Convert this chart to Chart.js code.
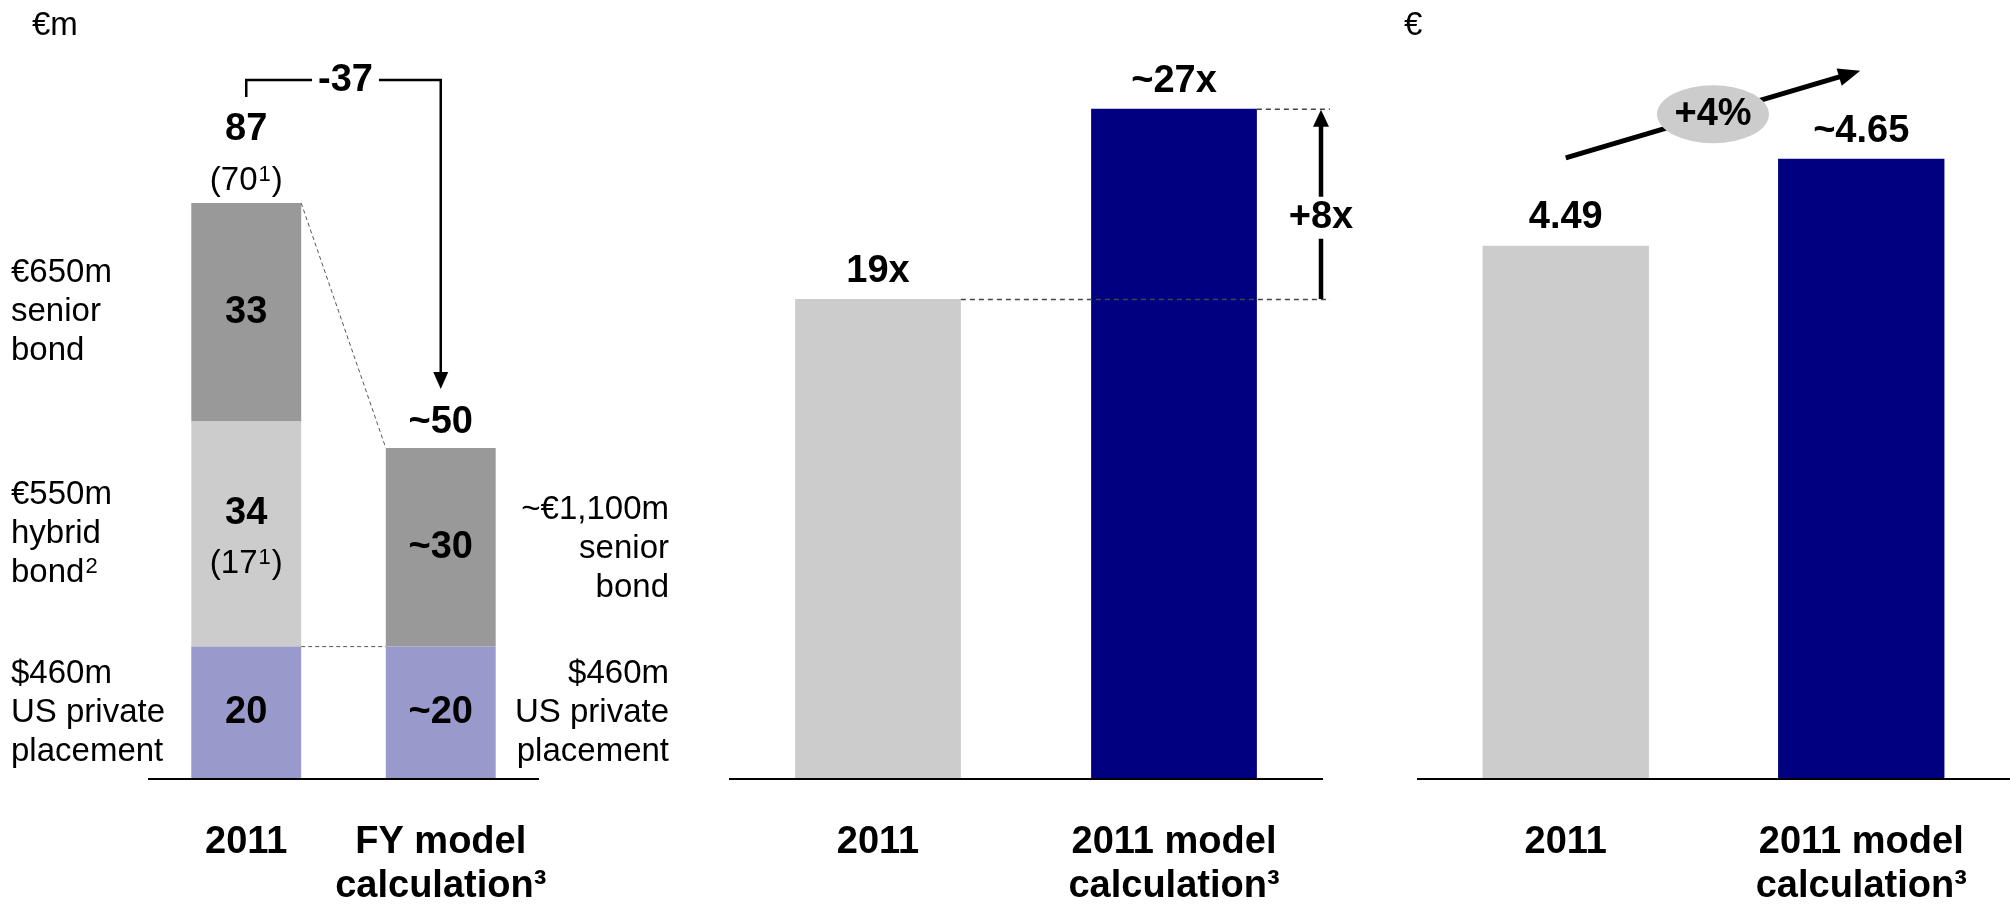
<!DOCTYPE html>
<html>
<head>
<meta charset="utf-8">
<script src="https://cdn.jsdelivr.net/npm/chart.js@4.4.1/dist/chart.umd.min.js"></script>
<style>
  html, body { margin: 0; padding: 0; background: #fff; }
  #wrap { position: relative; width: 2010px; height: 904px; overflow: hidden; background: #fff; }
  #wrap canvas { position: absolute; top: 0; }
</style>
</head>
<body>
<div id="wrap">
  <canvas id="debt" width="700" height="904" style="left:0;width:700px;height:904px"></canvas>
  <canvas id="cover" width="660" height="904" style="left:700px;width:660px;height:904px"></canvas>
  <canvas id="eps" width="650" height="904" style="left:1360px;width:650px;height:904px"></canvas>
</div>
<script>
const FONT = '"Liberation Sans", Arial, Helvetica, sans-serif';

// Interest expense by instrument, €m
const debtCategories = ['2011', ['FY model', 'calculation³']];
const privatePlacement = [20, 20];
const hybridBond = [34, null];
const seniorBond = [33, 30];
const debtTotalLabels = [['87', '(70¹)'], ['~50']];
const debtChangeLabel = '-37';
const privatePlacementLabels = ['20', '~20'];
const hybridBondLabels = [['34', '(17¹)'], null];
const seniorBondLabels = ['33', '~30'];
const leftNotes = {
  senior: ['€650m', 'senior', 'bond'],
  hybrid: ['€550m', 'hybrid', 'bond²'],
  placement: ['$460m', 'US private', 'placement']
};
const rightNotes = {
  senior: ['~€1,100m', 'senior', 'bond'],
  placement: ['$460m', 'US private', 'placement']
};

// Interest cover
const coverCategories = ['2011', ['2011 model', 'calculation³']];
const coverValues = [19, 27];
const coverLabels = ['19x', '~27x'];
const coverChangeLabel = '+8x';
const coverAxisMin = -1.2;

// Earnings per share, €
const epsCategories = ['2011', ['2011 model', 'calculation³']];
const epsValues = [4.49, 4.65];
const epsLabels = ['4.49', '~4.65'];
const epsChangeLabel = '+4%';
const epsAxisMin = 3.51;

const DARK_GREY = '#999999';
const LIGHT_GREY = '#cccccc';
const LAVENDER = '#9999cc';
const NAVY = '#000080';
const BOLD = 38;
const REGULAR = 33;

// ---------- drawing helpers ----------
const SUPERSCRIPTS = { '¹': '1', '²': '2', '³': '3' };

// Draws text centred on y; superscript digits are set smaller and raised.
function drawText(ctx, str, x, y, size, bold, align) {
  ctx.save();
  const weight = bold ? 'bold ' : '';
  const mainFont = weight + size + 'px ' + FONT;
  const supSize = Math.round(size * 0.68);
  const supFont = weight + supSize + 'px ' + FONT;
  const parts = [];
  let buf = '';
  for (const ch of str) {
    if (SUPERSCRIPTS[ch]) {
      if (buf) parts.push({ t: buf, sup: false });
      parts.push({ t: SUPERSCRIPTS[ch], sup: true });
      buf = '';
    } else {
      buf += ch;
    }
  }
  if (buf) parts.push({ t: buf, sup: false });
  let total = 0;
  parts.forEach(p => {
    ctx.font = p.sup ? supFont : mainFont;
    p.w = ctx.measureText(p.t).width + (p.sup ? 2 : 0);
    total += p.w;
  });
  let cx = x;
  if (!align || align === 'center') cx = x - total / 2;
  else if (align === 'right') cx = x - total;
  ctx.fillStyle = '#000';
  ctx.textAlign = 'left';
  ctx.textBaseline = 'middle';
  parts.forEach(p => {
    ctx.font = p.sup ? supFont : mainFont;
    ctx.fillText(p.t, cx + (p.sup ? 1 : 0), p.sup ? y - size * 0.2 : y);
    cx += p.w;
  });
  ctx.restore();
}
function drawLines(ctx, arr, x, yMid, size, bold, align, spacing) {
  const n = arr.length;
  arr.forEach((s, i) => drawText(ctx, s, x, yMid + (i - (n - 1) / 2) * spacing, size, bold, align));
}
function textWidth(ctx, str, size, bold) {
  ctx.save();
  ctx.font = (bold ? 'bold ' : '') + size + 'px ' + FONT;
  const w = ctx.measureText(str).width;
  ctx.restore();
  return w;
}
function dashedLine(ctx, x1, y1, x2, y2, color, width, dash) {
  ctx.save();
  ctx.strokeStyle = color;
  ctx.lineWidth = width;
  ctx.setLineDash(dash);
  ctx.beginPath();
  ctx.moveTo(x1, y1);
  ctx.lineTo(x2, y2);
  ctx.stroke();
  ctx.restore();
}
function arrowHead(ctx, tipX, tipY, angle, len, width) {
  ctx.save();
  ctx.translate(tipX, tipY);
  ctx.rotate(angle);
  ctx.fillStyle = '#000';
  ctx.beginPath();
  ctx.moveTo(0, 0);
  ctx.lineTo(-len, -width / 2);
  ctx.lineTo(-len, width / 2);
  ctx.closePath();
  ctx.fill();
  ctx.restore();
}

function categoryAxis(stacked) {
  return {
    type: 'category',
    stacked: stacked,
    offset: true,
    grid: { display: false, drawTicks: false },
    border: { display: true, color: '#000', width: 2, z: 1 },
    ticks: {
      color: '#000',
      padding: 41,
      autoSkip: false,
      maxRotation: 0,
      minRotation: 0,
      font: { family: FONT, size: BOLD, weight: 'bold', lineHeight: 1.16 }
    },
    afterFit(scale) { scale.height = 125; }
  };
}
const baseOptions = {
  responsive: false,
  animation: false,
  events: [],
  plugins: { legend: { display: false }, tooltip: { enabled: false } }
};

// ---------- interest expense (stacked) ----------
const debtNotes = {
  id: 'debtNotes',
  afterDatasetsDraw(chart) {
    const ctx = chart.ctx;
    const y = chart.scales.y;
    const bars = chart.getDatasetMeta(0).data;
    const x0 = bars[0].x, x1 = bars[1].x, half = bars[0].width / 2;
    const total = i => privatePlacement[i] + (hybridBond[i] || 0) + seniorBond[i];
    const top0 = y.getPixelForValue(total(0));
    const top1 = y.getPixelForValue(total(1));
    const ppTop = y.getPixelForValue(privatePlacement[0]);

    // connectors between the two bars
    dashedLine(ctx, x0 + half, top0, x1 - half, top1, '#555', 1, [4, 3]);
    dashedLine(ctx, x0 + half, ppTop, x1 - half, ppTop, '#555', 1, [4, 3]);

    // segment values
    const mid = (a, b) => y.getPixelForValue((a + b) / 2);
    for (let i = 0; i < 2; i++) {
      const pp = privatePlacement[i], hb = hybridBond[i] || 0, sb = seniorBond[i];
      const xc = bars[i].x;
      drawText(ctx, privatePlacementLabels[i], xc, mid(0, pp), BOLD, true);
      if (hybridBondLabels[i]) {
        const c = mid(pp, pp + hb);
        drawText(ctx, hybridBondLabels[i][0], xc, c - 21, BOLD, true);
        drawText(ctx, hybridBondLabels[i][1], xc, c + 30, REGULAR, false);
      }
      drawText(ctx, seniorBondLabels[i], xc, mid(pp + hb, pp + hb + sb), BOLD, true);
    }

    // totals above the bars
    drawText(ctx, debtTotalLabels[0][0], x0, top0 - 74, BOLD, true);
    drawText(ctx, debtTotalLabels[0][1], x0, top0 - 22, REGULAR, false);
    drawText(ctx, debtTotalLabels[1][0], x1, top1 - 25, BOLD, true);

    // change bracket with arrow
    const by = top0 - 123;
    const cx = (x0 + x1) / 2 + 2;
    const gap = textWidth(ctx, debtChangeLabel, BOLD, true) / 2 + 6;
    ctx.save();
    ctx.strokeStyle = '#000';
    ctx.lineWidth = 2.5;
    ctx.beginPath();
    ctx.moveTo(x0, top0 - 106);
    ctx.lineTo(x0, by);
    ctx.lineTo(cx - gap, by);
    ctx.moveTo(cx + gap, by);
    ctx.lineTo(x1, by);
    ctx.lineTo(x1, top1 - 74);
    ctx.stroke();
    ctx.restore();
    arrowHead(ctx, x1, top1 - 59, Math.PI / 2, 17, 15);
    drawText(ctx, debtChangeLabel, cx, by, BOLD, true);

    // instrument descriptions
    const c0 = [mid(privatePlacement[0] + hybridBond[0], total(0)), mid(privatePlacement[0], privatePlacement[0] + hybridBond[0]), mid(0, privatePlacement[0])];
    drawLines(ctx, leftNotes.senior, 11, c0[0], REGULAR, false, 'left', 39);
    drawLines(ctx, leftNotes.hybrid, 11, c0[1], REGULAR, false, 'left', 39);
    drawLines(ctx, leftNotes.placement, 11, c0[2], REGULAR, false, 'left', 39);
    const rx = 669;
    drawLines(ctx, rightNotes.senior, rx, mid(privatePlacement[1], total(1)) + 2, REGULAR, false, 'right', 39);
    drawLines(ctx, rightNotes.placement, rx, mid(0, privatePlacement[1]), REGULAR, false, 'right', 39);

    // unit
    drawText(ctx, '€m', 32, 26, REGULAR, false, 'left');
  }
};

new Chart(document.getElementById('debt'), {
  type: 'bar',
  data: {
    labels: debtCategories,
    datasets: [
      { data: privatePlacement, backgroundColor: LAVENDER, borderWidth: 0 },
      { data: hybridBond, backgroundColor: LIGHT_GREY, borderWidth: 0 },
      { data: seniorBond, backgroundColor: DARK_GREY, borderWidth: 0 }
    ]
  },
  options: Object.assign({}, baseOptions, {
    layout: { padding: { left: 149, right: 162, top: 117, bottom: 0 } },
    datasets: { bar: { barPercentage: 0.565, categoryPercentage: 1 } },
    scales: {
      x: categoryAxis(true),
      y: { display: false, stacked: true, min: 0, max: 100 }
    }
  }),
  plugins: [debtNotes]
});

// ---------- interest cover ----------
const coverNotes = {
  id: 'coverNotes',
  afterDatasetsDraw(chart) {
    const ctx = chart.ctx;
    const y = chart.scales.y;
    const bars = chart.getDatasetMeta(0).data;
    const top0 = y.getPixelForValue(coverValues[0]);
    const top1 = y.getPixelForValue(coverValues[1]);
    const ax = chart.chartArea.right - 1;
    const end = chart.chartArea.right + 8;

    dashedLine(ctx, bars[0].x + bars[0].width / 2, top0 + 0.5, end, top0 + 0.5, '#444', 1.5, [5, 4]);
    dashedLine(ctx, bars[1].x + bars[1].width / 2, top1 + 0.5, end, top1 + 0.5, '#444', 1.5, [5, 4]);

    drawText(ctx, coverLabels[0], bars[0].x, top0 - 27, BOLD, true);
    drawText(ctx, coverLabels[1], bars[1].x, top1 - 27, BOLD, true);

    // difference arrow
    const ty = top1 + 109;
    ctx.save();
    ctx.strokeStyle = '#000';
    ctx.lineWidth = 4.5;
    ctx.beginPath();
    ctx.moveTo(ax, top0);
    ctx.lineTo(ax, ty + 21);
    ctx.moveTo(ax, ty - 21);
    ctx.lineTo(ax, top1 + 14);
    ctx.stroke();
    ctx.restore();
    arrowHead(ctx, ax, top1 + 1, -Math.PI / 2, 17, 16);
    drawText(ctx, coverChangeLabel, ax, ty, BOLD, true);
  }
};

new Chart(document.getElementById('cover'), {
  type: 'bar',
  data: {
    labels: coverCategories,
    datasets: [{ data: coverValues, base: coverAxisMin, backgroundColor: [LIGHT_GREY, NAVY], borderWidth: 0 }]
  },
  options: Object.assign({}, baseOptions, {
    layout: { padding: { left: 30, right: 38, top: 85, bottom: 0 } },
    datasets: { bar: { barPercentage: 0.56, categoryPercentage: 1 } },
    scales: {
      x: categoryAxis(false),
      y: { display: false, min: coverAxisMin, max: 28 }
    }
  }),
  plugins: [coverNotes]
});

// ---------- earnings per share ----------
const epsNotes = {
  id: 'epsNotes',
  afterDatasetsDraw(chart) {
    const ctx = chart.ctx;
    const y = chart.scales.y;
    const bars = chart.getDatasetMeta(0).data;
    const top0 = y.getPixelForValue(epsValues[0]);
    const top1 = y.getPixelForValue(epsValues[1]);

    drawText(ctx, epsLabels[0], bars[0].x, top0 - 28, BOLD, true);
    drawText(ctx, epsLabels[1], bars[1].x, top1 - 27, BOLD, true);

    // growth arrow
    const sx = bars[0].x, sy = top1 - 1;
    const ex = bars[1].x - 1, ey = top1 - 88;
    const ang = Math.atan2(ey - sy, ex - sx);
    const headLen = 22;
    ctx.save();
    ctx.strokeStyle = '#000';
    ctx.lineWidth = 5;
    ctx.beginPath();
    ctx.moveTo(sx, sy);
    ctx.lineTo(ex - Math.cos(ang) * (headLen - 2), ey - Math.sin(ang) * (headLen - 2));
    ctx.stroke();
    ctx.restore();
    arrowHead(ctx, ex, ey, ang, headLen, 18);

    // growth badge
    const mx = (sx + ex) / 2, my = (sy + ey) / 2;
    ctx.save();
    ctx.fillStyle = LIGHT_GREY;
    ctx.beginPath();
    ctx.ellipse(mx, my, 56, 29, 0, 0, Math.PI * 2);
    ctx.fill();
    ctx.restore();
    drawText(ctx, epsChangeLabel, mx, my, BOLD, true);

    // unit
    drawText(ctx, '€', 44, 26, REGULAR, false, 'left');
  }
};

new Chart(document.getElementById('eps'), {
  type: 'bar',
  data: {
    labels: epsCategories,
    datasets: [{ data: epsValues, base: epsAxisMin, backgroundColor: [LIGHT_GREY, NAVY], borderWidth: 0 }]
  },
  options: Object.assign({}, baseOptions, {
    layout: { padding: { left: 58, right: 1, top: 50, bottom: 0 } },
    datasets: { bar: { barPercentage: 0.563, categoryPercentage: 1 } },
    scales: {
      x: categoryAxis(false),
      y: { display: false, min: epsAxisMin, max: 4.85 }
    }
  }),
  plugins: [epsNotes]
});
</script>
</body>
</html>
